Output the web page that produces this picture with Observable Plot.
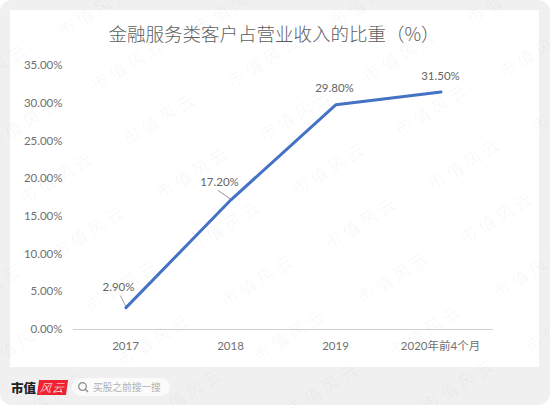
<!DOCTYPE html>
<html lang="zh">
<head>
<meta charset="utf-8">
<script src="https://cdn.jsdelivr.net/npm/d3@7"></script>
<script src="https://cdn.jsdelivr.net/npm/@observablehq/plot@0.6"></script>
<style>
html,body{margin:0;padding:0;background:#fff;}
#page{position:relative;width:550px;height:405px;background:#f0f0f0;border-radius:12px;overflow:hidden;font-family:"Noto Sans CJK SC","Noto Sans",sans-serif;}
#card{position:absolute;left:10px;top:10px;width:529px;height:357px;background:#fff;}
#title{position:absolute;left:0;top:20px;width:548px;text-align:center;font-size:18.5px;line-height:26px;color:#5e5e5e;font-weight:300;white-space:nowrap;}
#chart{position:absolute;left:0;top:0;}
#chart svg{display:block;background:transparent;}
#brand{position:absolute;left:11px;top:379px;font-size:12.5px;line-height:18px;font-weight:900;color:#222;letter-spacing:0;}
#badge{position:absolute;left:38px;top:380px;width:29px;height:15px;background:#ee2230;transform:skewX(-8deg);color:#fff;font-size:11.5px;line-height:15px;font-style:italic;font-weight:300;text-align:center;letter-spacing:1px;}
#pill{position:absolute;left:72px;top:378px;width:98px;height:18px;border-radius:9px;background:#fbfbfb;}
#pill svg{position:absolute;left:5px;top:3px;}
#pill span{position:absolute;left:21px;top:0;font-size:9.7px;line-height:18px;color:#b0b0b0;white-space:nowrap;}
#marks{position:absolute;inset:0;pointer-events:none;overflow:hidden;}
#marks span{position:absolute;width:100px;margin-left:-50px;margin-top:-11px;text-align:center;font-size:17px;line-height:22px;letter-spacing:4px;color:rgba(0,0,0,.06);transform:rotate(-32deg);white-space:nowrap;font-weight:300;}
</style>
</head>
<body>
<div id="page">
  <div id="card"></div>
  <div id="title">金融服务类客户占营业收入的比重（%）</div>
  <div id="chart"></div>
  <div id="brand">市值</div>
  <div id="badge">风云</div>
  <div id="pill">
    <svg width="13" height="13" viewBox="0 0 13 13"><circle cx="5.5" cy="5.5" r="3.8" fill="none" stroke="#8f8f8f" stroke-width="1.3"/><path d="M8.3 8.3L11 11" stroke="#8f8f8f" stroke-width="1.4"/></svg>
    <span>买股之前搜一搜</span>
  </div>
  <div id="marks"></div>
</div>
<script>
const periods = ["2017", "2018", "2019", "2020年前4个月"];
const shares = [2.9, 17.2, 29.8, 31.5];
const yTicks = [0, 5, 10, 15, 20, 25, 30, 35];
const rows = periods.map((period, i) => ({period, share: shares[i]}));
const fmt = d => d.toFixed(2) + "%";
const latin = "Lato,'Noto Sans CJK SC',sans-serif";
const ink = "#707070";
const leaderShape = {draw(ctx, l) { ctx.moveTo(0, 0); ctx.lineTo(0, -l); }};
const labelAt = (period, dx, dy) => Plot.text(rows.filter(d => d.period === period), {
  x: "period", y: "share", text: d => fmt(d.share), dx, dy, fill: "#666666", fontSize: 11.5, fontFamily: latin
});
const leaderAt = (period, rotate, length) => Plot.vector(rows.filter(d => d.period === period), {
  x: "period", y: "share", rotate, length, anchor: "start", shape: leaderShape, stroke: "#a6a6a6", strokeWidth: 1
});
const chart = Plot.plot({
  width: 550, height: 405,
  marginLeft: 73, marginRight: 57, marginTop: 65, marginBottom: 76,
  style: {background: "transparent", fontFamily: latin},
  x: {type: "point", domain: periods, padding: 0.5, label: null},
  y: {domain: [0, 35], ticks: yTicks, label: null},
  marks: [
    Plot.ruleY([0], {stroke: "#d0d0d0", strokeWidth: 1}),
    Plot.axisY({ticks: yTicks, tickSize: 0, tickPadding: 11, tickFormat: fmt, fill: ink, fontSize: 11.5, fontFamily: latin, label: null}),
    Plot.axisX({tickSize: 0, tickPadding: 12, dx: -1, fill: ink, fontSize: 11.5, fontFamily: latin, label: null}),
    leaderAt("2017", -27, 13),
    leaderAt("2018", -55, 16),
    Plot.line(rows, {x: "period", y: "share", stroke: "#4472c4", strokeWidth: 3, strokeLinejoin: "round", dx: -0.5}),
    labelAt("2017", -8, -20),
    labelAt("2018", -12, -17),
    labelAt("2019", -2, -16),
    labelAt("2020年前4个月", -1, -16)
  ]
});
document.getElementById("chart").append(chart);

// faint repeated site watermark, laid over the whole picture
const layer = document.getElementById("marks");
for (let i = -4; i <= 5; i++) {
  for (let j = -4; j <= 7; j++) {
    const cx = 160 + 136 * i + 32.5 * j, cy = 118 - 4.5 * i + 54 * j;
    if (cx < -50 || cx > 600 || cy < -30 || cy > 435) continue;
    const s = document.createElement("span");
    s.textContent = "市值风云";
    s.style.left = cx + "px";
    s.style.top = cy + "px";
    layer.append(s);
  }
}
</script>
</body>
</html>
